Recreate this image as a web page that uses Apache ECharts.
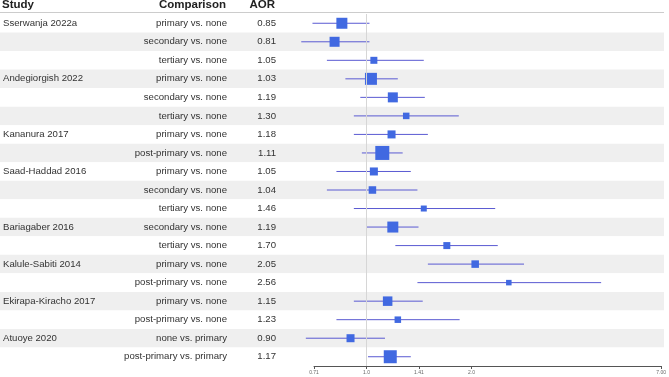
<!DOCTYPE html>
<html><head><meta charset="utf-8">
<script src="https://cdn.jsdelivr.net/npm/echarts@6/dist/echarts.min.js"></script>
<style>html,body{margin:0;padding:0;background:#fff}#c{width:669px;height:377px}</style>
</head><body><div id="c"></div>
<script>
const studies = ['Sserwanja 2022a','','','Andegiorgish 2022','','','Kananura 2017','','Saad-Haddad 2016','','','Bariagaber 2016','','Kalule-Sabiti 2014','','Ekirapa-Kiracho 2017','','Atuoye 2020',''];
const comparisons = ['primary vs. none','secondary vs. none','tertiary vs. none','primary vs. none','secondary vs. none','tertiary vs. none','primary vs. none','post-primary vs. none','primary vs. none','secondary vs. none','tertiary vs. none','secondary vs. none','tertiary vs. none','primary vs. none','post-primary vs. none','primary vs. none','post-primary vs. none','none vs. primary','post-primary vs. primary'];
const aor = [0.85,0.81,1.05,1.03,1.19,1.30,1.18,1.11,1.05,1.04,1.46,1.19,1.70,2.05,2.56,1.15,1.23,0.90,1.17];
const lower = [0.70,0.65,0.77,0.87,0.96,0.92,0.92,0.97,0.82,0.77,0.92,1.00,1.21,1.50,1.40,0.92,0.82,0.67,1.01];
const upper = [1.02,1.02,1.46,1.23,1.47,1.84,1.50,1.27,1.34,1.40,2.34,1.41,2.38,2.83,4.71,1.45,1.85,1.13,1.34];
const weights = [11.1,9.2,4.5,13.2,9.2,3.9,5.9,18.0,5.9,5.2,3.3,11.1,4.5,5.2,2.8,8.3,3.9,5.9,15.5];
const tickValues = [0.7071,1,1.4142,2,7];
const tickLabels = ['0.71','1.0','1.41','2.0','7.00'];

const rows = aor.map((v,i)=>String(i));
const data = aor.map((v,i)=>[i, v, lower[i], upper[i], weights[i]]);
const FONT = 'Liberation Sans, Arial, sans-serif';
const chart = echarts.init(document.getElementById('c'), null, {renderer:'canvas'});
const catAxis = (grid, fmt, align, margin, show) => ({
  type:'category', gridIndex:grid, data:rows, inverse:true, position:'left',
  axisLine:{show:false}, axisTick:{show:false},
  axisLabel:{show:show, interval:0, align:align, margin:margin, fontFamily:FONT, fontSize:9.6, color:'#333', formatter:fmt},
  splitLine:{show:false}
});
const bandAxis = catAxis(0, ()=> '', 'left', 0, false);
bandAxis.splitArea = {show:true, interval:0, areaStyle:{color:['#ffffff','#efefef']}};
chart.setOption({
  animation:false,
  grid:[
    {left:0, right:5, top:14, bottom:11},
    {left:313, right:5, top:14, bottom:11}
  ],
  xAxis:[
    {type:'value', gridIndex:0, min:0, max:1, show:false},
    {type:'log', logBase:2, gridIndex:1, min:tickValues[0], max:tickValues[tickValues.length-1],
     axisLine:{show:true, lineStyle:{color:'#555', width:1}},
     axisTick:{show:true, length:3, lineStyle:{color:'#555'}, customValues:tickValues},
     axisLabel:{show:true, fontSize:5, color:'#666', margin:4, fontFamily:FONT, customValues:tickValues,
       formatter:(v)=>{ const k = tickValues.findIndex(t=>Math.abs(t-v)<1e-3); return k>=0?tickLabels[k]:''; }},
     splitLine:{show:false}, minorTick:{show:false}}
  ],
  yAxis:[
    bandAxis,
    catAxis(1, (v,i)=>studies[i], 'left', 311, true),
    catAxis(1, (v,i)=>comparisons[i], 'right', 87, true),
    catAxis(1, (v,i)=>aor[i].toFixed(2), 'right', 38, true)
  ],
  graphic:[
    {type:'line', shape:{x1:0, y1:12.5, x2:664, y2:12.5}, style:{stroke:'#cccccc', lineWidth:1.2}, z:10},
    {type:'text', left:2, top:-1, style:{text:'Study', font:'bold 11.5px '+FONT, fill:'#222'}},
    {type:'text', right:669-226, top:-1, style:{text:'Comparison', font:'bold 11.5px '+FONT, fill:'#222'}},
    {type:'text', right:669-275, top:-1, style:{text:'AOR', font:'bold 11.5px '+FONT, fill:'#222'}}
  ],
  series:[
    {type:'scatter', xAxisIndex:0, yAxisIndex:0, data:[], silent:true},
    {type:'custom', xAxisIndex:1, yAxisIndex:1, data:data, encode:{x:[1,2,3], y:0}, clip:false,
     renderItem:(params, api)=>{
       const i = api.value(0);
       const lo = api.coord([api.value(2), i]);
       const hi = api.coord([api.value(3), i]);
       const c = api.coord([api.value(1), i]);
       const s = 3.3*Math.sqrt(api.value(4));
       return {type:'group', children:[
         {type:'line', shape:{x1:lo[0], y1:lo[1], x2:hi[0], y2:hi[1]}, style:{stroke:'#5a5ad2', lineWidth:1}},
         {type:'rect', shape:{x:c[0]-s/2, y:c[1]-s/2, width:s, height:s}, style:{fill:'#4169e1'}}
       ]};
     },
     markLine:{silent:true, symbol:'none', label:{show:false}, lineStyle:{color:'#d6d6d6', width:1, type:'solid'},
       data:[{xAxis:1}]}
    }
  ]
});
</script></body></html>
